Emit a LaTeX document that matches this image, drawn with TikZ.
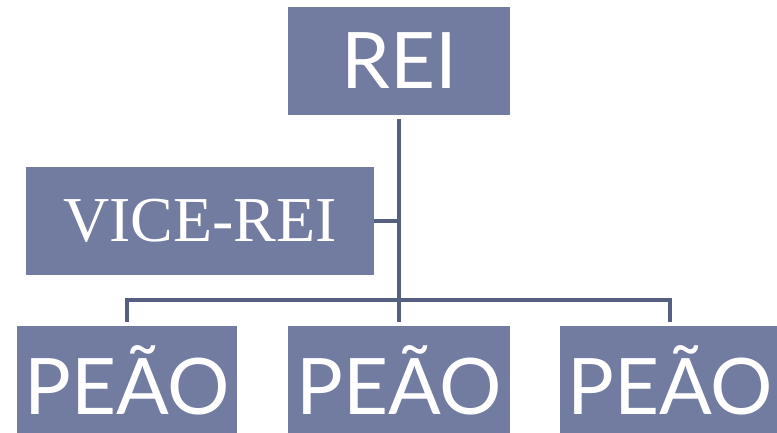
\documentclass[tikz,border=0pt]{standalone}
\usepackage{fontspec}
\setmainfont{Liberation Serif}
\newfontfamily\boxsans{Lato}
\definecolor{boxblue}{RGB}{114,123,160}
\definecolor{linkblue}{RGB}{86,95,128}
\begin{document}
\begin{tikzpicture}[x=1pt,y=-1pt,
  cargo/.style={fill=boxblue,text=white,inner sep=0pt,minimum height=108pt},
  bigsans/.style={font=\boxsans\fontsize{78}{78}\selectfont},
  link/.style={draw=linkblue,line width=3.5pt,shorten <=4pt,shorten >=4pt}]
\useasboundingbox (0,0) rectangle (777,433);
\node[cargo,bigsans,minimum width=222pt] (rei) at (399,61) {REI};
\node[cargo,minimum width=348pt,font=\fontsize{64}{64}\selectfont] (vice) at (200,221) {VICE-REI};
\node[cargo,bigsans,minimum width=220pt] (peao1) at (127,380) {PEÃO};
\node[cargo,bigsans,minimum width=222pt] (peao2) at (399,380) {PEÃO};
\node[cargo,bigsans,minimum width=220pt] (peao3) at (670,380) {PEÃO};
\coordinate (bus) at (399,300);
\draw[link,line width=4.5pt] (rei.south) -- (peao2.north);
\draw[link] (peao1.north) |- (bus) -| (peao3.north);
\draw[link,shorten <=0pt,shorten >=0pt] (vice.east) -- (vice.east -| rei.south);
\end{tikzpicture}
\end{document}
